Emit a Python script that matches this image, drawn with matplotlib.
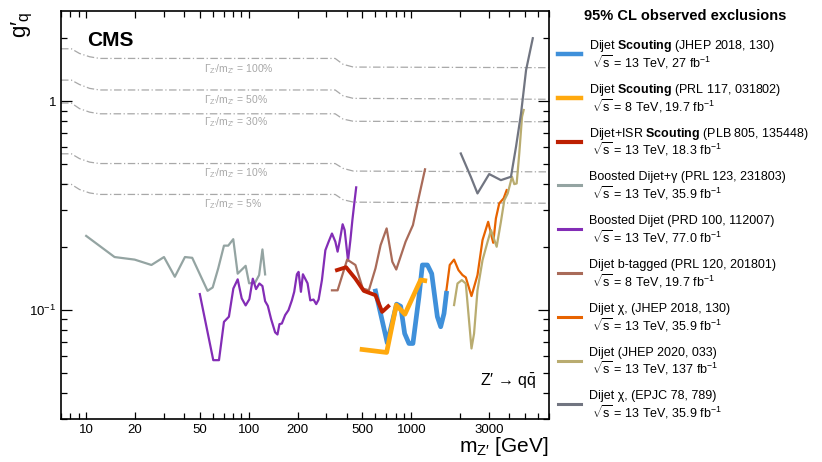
import matplotlib
matplotlib.use("Agg")
import matplotlib.pyplot as plt
from matplotlib.lines import Line2D
from matplotlib.ticker import FixedLocator, FixedFormatter, LogLocator, NullFormatter

plt.rcParams['font.family'] = ['Liberation Sans', 'DejaVu Sans']
plt.rcParams['mathtext.fontset'] = 'custom'
plt.rcParams['mathtext.rm'] = 'Liberation Sans'
plt.rcParams['mathtext.it'] = 'Liberation Sans'
plt.rcParams['mathtext.bf'] = 'Liberation Sans:bold'

# ---------------- data ----------------
width_mass = [7, 8.1, 9.1, 10.5, 12.1, 340, 380, 440, 7000]
width_100 = [1.78, 1.78, 1.69, 1.63, 1.60, 1.60, 1.50, 1.455, 1.445]
width_50 = [1.26, 1.26, 1.20, 1.15, 1.13, 1.13, 1.06, 1.03, 1.02]
width_30 = [0.978, 0.978, 0.92, 0.885, 0.869, 0.869, 0.82, 0.80, 0.796]
width_10 = [0.559, 0.559, 0.53, 0.51, 0.502, 0.502, 0.476, 0.462, 0.458]
width_5 = [0.399, 0.399, 0.377, 0.363, 0.357, 0.357, 0.337, 0.328, 0.324]
width_labels = ["100%", "50%", "30%", "10%", "5%"]
width_label_g = [1.423, 1.011, 0.793, 0.452, 0.321]

scout13_m = [602, 711, 812, 860, 910, 967, 1023, 1114, 1170, 1256, 1335, 1446, 1516, 1589, 1644]
scout13_g = [0.123, 0.0695, 0.1065, 0.104, 0.077, 0.069, 0.069, 0.1154, 0.164, 0.164, 0.149, 0.0927, 0.083, 0.096, 0.120]

scout8_m = [498, 705, 808, 913, 1141, 1210]
scout8_g = [0.0646, 0.0625, 0.1054, 0.0953, 0.139, 0.138]

isr_m = [349, 397, 453, 510, 602, 662, 721]
isr_g = [0.155, 0.160, 0.141, 0.1233, 0.1175, 0.0978, 0.104]

gamma_m = [10, 14.95, 19.87, 25.2, 30.1, 35.1, 40.5, 44.9, 55.8, 60, 64.9, 70.4, 74.8, 80.3, 85.5, 95.7, 100.5, 109.4, 115.8, 121.4, 126.1]
gamma_g = [0.226, 0.179, 0.174, 0.164, 0.179, 0.144, 0.179, 0.1775, 0.1233, 0.128, 0.158, 0.203, 0.203, 0.218, 0.149, 0.1625, 0.134, 0.135, 0.1467, 0.1947, 0.1478]

boosted_m = [50.0, 60.5, 65.6, 70.4, 75.5, 80.4, 85.5, 90.5, 95.7, 100.9, 105.9, 110.9, 116.3, 121.4, 126.1, 131, 137.3, 145.3, 150.2, 154.5, 159.8, 167.5, 175.6, 184.2, 190.4, 197.8, 202.4, 209.4, 215.4, 230, 239, 250.4, 260, 269, 282, 296, 310, 325, 341, 352, 362, 378, 389, 408, 422, 434, 447, 458]
boosted_g = [0.119, 0.0574, 0.0574, 0.0876, 0.0927, 0.1265, 0.140, 0.1135, 0.105, 0.1125, 0.141, 0.1257, 0.1337, 0.130, 0.110, 0.1045, 0.0902, 0.078, 0.0762, 0.0854, 0.086, 0.0944, 0.0997, 0.111, 0.122, 0.148, 0.152, 0.122, 0.148, 0.134, 0.111, 0.112, 0.1065, 0.112, 0.139, 0.193, 0.212, 0.232, 0.212, 0.190, 0.212, 0.257, 0.241, 0.172, 0.216, 0.269, 0.329, 0.386]

btag_m = [325, 352, 403, 453, 503, 548, 602, 647, 705, 764, 808, 922, 1023, 1114, 1214]
btag_g = [0.124, 0.124, 0.174, 0.164, 0.1265, 0.124, 0.158, 0.204, 0.2455, 0.170, 0.156, 0.212, 0.2545, 0.348, 0.471]

chi18_m = [1629, 1723, 1832, 1950, 2065, 2163, 2345, 2553, 2742, 2970, 3190, 3313, 3474, 3698, 3860]
chi18_g = [0.1175, 0.164, 0.174, 0.155, 0.1467, 0.143, 0.1164, 0.1467, 0.216, 0.264, 0.2095, 0.274, 0.3235, 0.342, 0.3745]

dijet20_m = [1832, 1923, 2045, 2163, 2345, 2432, 2553, 2742, 2946, 3090, 3350, 3557, 3733, 3917, 4161, 4299, 4446, 4614, 4797, 4910]
dijet20_g = [0.1054, 0.1337, 0.1388, 0.1337, 0.0653, 0.077, 0.124, 0.173, 0.212, 0.241, 0.2005, 0.264, 0.335, 0.361, 0.434, 0.400, 0.403, 0.561, 0.841, 0.906]

chiepjc_m = [2015, 2322, 2553, 3013, 3557, 4102, 4406, 4732, 5081, 5588]
chiepjc_g = [0.561, 0.434, 0.361, 0.447, 0.418, 0.434, 0.604, 0.873, 1.408, 2.00]

x_tick_labels = [10, 20, 50, 100, 200, 500, 1000, 3000]

legend_line1 = [
    r"Dijet $\mathbf{Scouting}$ (JHEP 2018, 130)",
    r"Dijet $\mathbf{Scouting}$ (PRL 117, 031802)",
    r"Dijet+ISR $\mathbf{Scouting}$ (PLB 805, 135448)",
    "Boosted Dijet+γ (PRL 123, 231803)",
    "Boosted Dijet (PRD 100, 112007)",
    "Dijet b-tagged (PRL 120, 201801)",
    "Dijet χ, (JHEP 2018, 130)",
    "Dijet (JHEP 2020, 033)",
    "Dijet χ, (EPJC 78, 789)",
]
legend_line2 = [
    r"$\sqrt{s}$ = 13 TeV, 27 fb$^{-1}$",
    r"$\sqrt{s}$ = 8 TeV, 19.7 fb$^{-1}$",
    r"$\sqrt{s}$ = 13 TeV, 18.3 fb$^{-1}$",
    r"$\sqrt{s}$ = 13 TeV, 35.9 fb$^{-1}$",
    r"$\sqrt{s}$ = 13 TeV, 77.0 fb$^{-1}$",
    r"$\sqrt{s}$ = 8 TeV, 19.7 fb$^{-1}$",
    r"$\sqrt{s}$ = 13 TeV, 35.9 fb$^{-1}$",
    r"$\sqrt{s}$ = 13 TeV, 137 fb$^{-1}$",
    r"$\sqrt{s}$ = 13 TeV, 35.9 fb$^{-1}$",
]

c_blue, c_yellow, c_red, c_grey, c_purple = "#3f90da", "#ffa90e", "#bd1f01", "#94a4a2", "#832db6"
c_brown, c_orange, c_tan, c_dgrey = "#a96b59", "#e76300", "#b9ac70", "#717581"

# ---------------- figure ----------------
fig = plt.figure(figsize=(8.22, 4.62), dpi=100)
ax = fig.add_axes([61/822, 1-419/462, (548.7-61)/822, (419-11)/462])
ax.set_xscale('log')
ax.set_yscale('log')
ax.set_xlim(7, 7000)
ax.set_ylim(0.03, 2.7)

wl = '#a8a8a8'
for wv in [width_100, width_50, width_30, width_10, width_5]:
    ax.plot(width_mass, wv, color=wl, lw=0.9, ls=(0, (6, 2, 1, 2)), zorder=1)
for lab, gy in zip(width_labels, width_label_g):
    ax.text(53, gy, "Γ$_{\\rm Z′}$/m$_{\\rm Z′}$ = " + lab, color='#a8a8a8', fontsize=7.5,
            ha='left', va='center', zorder=1)

thin = 1.6
ax.plot(gamma_m, gamma_g, color=c_grey, lw=thin, zorder=3)
ax.plot(boosted_m, boosted_g, color=c_purple, lw=thin, zorder=3)
ax.plot(btag_m, btag_g, color=c_brown, lw=thin, zorder=3)
ax.plot(chi18_m, chi18_g, color=c_orange, lw=thin, zorder=3)
ax.plot(dijet20_m, dijet20_g, color=c_tan, lw=thin, zorder=3)
ax.plot(chiepjc_m, chiepjc_g, color=c_dgrey, lw=thin, zorder=3)
ax.plot(scout13_m, scout13_g, color=c_blue, lw=3.4, zorder=4)
ax.plot(scout8_m, scout8_g, color=c_yellow, lw=3.4, zorder=5)
ax.plot(isr_m, isr_g, color=c_red, lw=2.8, zorder=6)

# ticks
ax.tick_params(which='both', direction='in', top=True, right=True, labelsize=9.5, width=0.9)
ax.tick_params(which='major', length=8)
ax.tick_params(which='minor', length=4)
ax.xaxis.set_major_locator(FixedLocator(x_tick_labels))
ax.xaxis.set_major_formatter(FixedFormatter([str(v) for v in x_tick_labels]))
ax.xaxis.set_minor_locator(LogLocator(base=10, subs=range(2, 10), numticks=20))
ax.xaxis.set_minor_formatter(NullFormatter())
ax.tick_params(axis='x', which='major', length=5)
ax.yaxis.set_major_locator(FixedLocator([0.1, 1]))
ax.yaxis.set_major_formatter(FixedFormatter([r"$10^{-1}$", "1"]))
ax.yaxis.set_minor_locator(LogLocator(base=10, subs=range(2, 10), numticks=20))
ax.yaxis.set_minor_formatter(NullFormatter())
for s in ax.spines.values():
    s.set_linewidth(1.2)

ax.text((87-61)/487.7, (419-41)/408, "CMS", fontsize=15,
        fontweight='bold', ha='left', va='center', transform=ax.transAxes)
ax.text((536-61)/487.7, (419-381)/408, "Z′ → q$\\bar{\\rm q}$", fontsize=11.5,
        ha='right', va='center', transform=ax.transAxes)

fig.text(22/822, 1-12/462, "g′$_{\\rm q}$", rotation=90, fontsize=16, ha='center', va='top')
fig.text(548.7/822, 1-452/462, "m$_{\\rm Z′}$ [GeV]", fontsize=15, ha='right', va='baseline')

# legend
fig.text(685.5/822, 1-16/462, "95% CL observed exclusions", fontsize=10.5, fontweight='bold',
         ha='center', va='center')
colors = [c_blue, c_yellow, c_red, c_grey, c_purple, c_brown, c_orange, c_tan, c_dgrey]
lws = [3.2, 3.2, 3.0, 2.2, 2.2, 2.2, 2.2, 2.2, 2.2]
for i, (l1, l2, c, lw) in enumerate(zip(legend_line1, legend_line2, colors, lws)):
    y1 = 46 + i * 43.8
    fig.text(589/822, 1 - y1/462, l1, fontsize=9, ha='left', va='center')
    fig.text(592/822, 1 - (y1 + 16)/462, l2, fontsize=9, ha='left', va='center')
    fig.add_artist(Line2D([558/822, 581/822], [1 - (y1 + 8)/462] * 2, color=c, lw=lw,
                          transform=fig.transFigure))

fig.savefig("out.png", dpi=100)
